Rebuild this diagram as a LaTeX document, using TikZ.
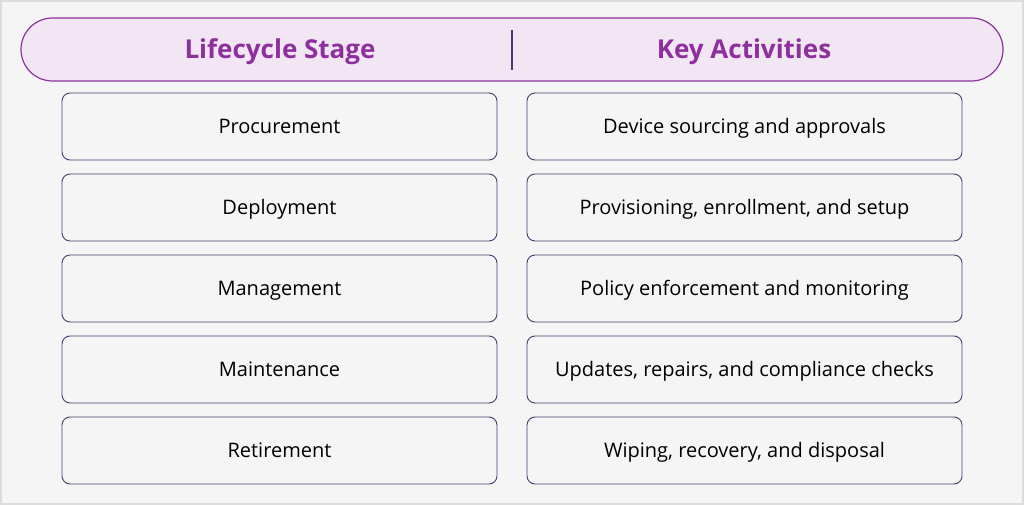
\documentclass[tikz,border=0pt]{standalone}
\usepackage{fontspec}
\setmainfont{Open Sans}
\definecolor{bgc}{HTML}{F5F5F5}
\definecolor{edgec}{HTML}{DCDCDC}
\definecolor{pillf}{HTML}{F2E6F4}
\definecolor{pilld}{HTML}{8E2F9E}
\definecolor{boxd}{HTML}{4B3A70}
\begin{document}
\begin{tikzpicture}[x=1pt,y=-1pt,
  rowbox/.style={draw=boxd,line width=0.9pt,fill=bgc,rounded corners=8pt,minimum width=435pt,minimum height=67pt,inner sep=0pt},
  rowtxt/.style={font=\fontsize{20}{24}\selectfont,text=black},
  headtxt/.style={font=\fontsize{26}{30}\bfseries\selectfont,text=pilld}]
\draw[edgec,line width=2pt,fill=bgc] (1,1) rectangle (1023,504);
\useasboundingbox (0,0) rectangle (1024,505);
\node[draw=pilld,line width=1.2pt,fill=pillf,rounded corners=31.5pt,minimum width=982pt,minimum height=63pt,inner sep=0pt] (pill) at (512,49.5) {};
\draw[boxd,line width=1.2pt] (512,30) coordinate (d1) -- (512,70) coordinate (d2);
\node[headtxt] (h1) at (280,52) {Lifecycle Stage};
\node[headtxt] (h2) at (744,52) {Key Activities};
\foreach \i/\a/\b in {0/Procurement/Device sourcing and approvals,
  1/Deployment/{Provisioning, enrollment, and setup},
  2/Management/Policy enforcement and monitoring,
  3/Maintenance/{Updates, repairs, and compliance checks},
  4/Retirement/{Wiping, recovery, and disposal}}{
  \node[rowbox] (l\i) at (279.5,126.5+81*\i) {};
  \node[rowtxt] (lt\i) at (279.5,128.5+81*\i) {\strut\a};
  \node[rowbox] (r\i) at (744.5,126.5+81*\i) {};
  \node[rowtxt] (rt\i) at (744.5,128.5+81*\i) {\strut\b};
}
\end{tikzpicture}
\end{document}
